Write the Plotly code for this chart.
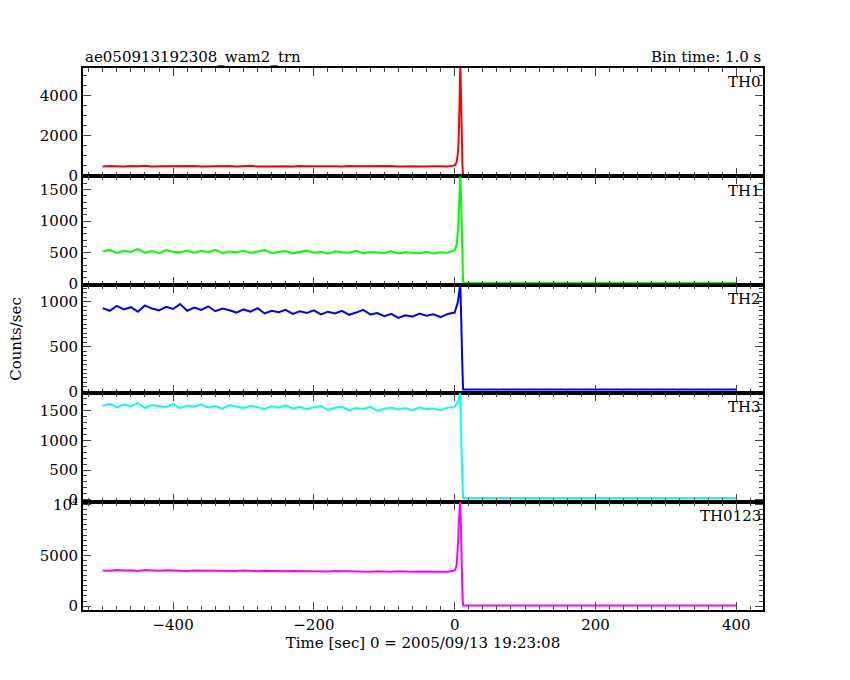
import plotly.graph_objects as go
from plotly.subplots import make_subplots
import numpy as np

# Pre-burst coarse bins (10 s) from -500 to -10 s
pre_time = list(np.arange(-500, 0, 10))
th0_pre = [470, 495, 480, 462, 488, 475, 500, 468, 483, 490, 472, 485, 478, 495, 466, 480,
           492, 474, 486, 470, 481, 498, 469, 477, 489, 473, 484, 466, 491, 476, 482, 470,
           488, 479, 465, 493, 474, 480, 487, 468, 476, 490, 471, 483, 477, 466, 489, 475, 482, 470]
th1_pre = [520, 545, 495, 530, 510, 555, 500, 525, 490, 540, 515, 505, 535, 498, 528, 512,
           545, 493, 520, 508, 530, 500, 518, 540, 495, 512, 526, 489, 505, 533, 500, 515,
           485, 522, 508, 498, 530, 490, 512, 504, 495, 520, 486, 508, 500, 492, 515, 485, 505, 498]
th2_pre = [930, 900, 955, 915, 940, 890, 960, 925, 905, 945, 920, 975, 900, 935, 910, 950,
           895, 925, 905, 880, 915, 890, 930, 870, 900, 885, 910, 865, 895, 875, 905, 860,
           890, 870, 900, 855, 880, 910, 860, 875, 840, 865, 820, 850, 835, 870, 845, 860, 830, 865]
th3_pre = [1580, 1610, 1555, 1600, 1570, 1625, 1545, 1590, 1575, 1560, 1605, 1540, 1585, 1565,
           1600, 1550, 1575, 1530, 1590, 1560, 1540, 1580, 1555, 1525, 1570, 1545, 1585, 1535,
           1560, 1520, 1555, 1575, 1510, 1545, 1565, 1500, 1540, 1525, 1560, 1495, 1530, 1550,
           1515, 1540, 1505, 1555, 1520, 1535, 1510, 1545]
th0123_pre = [3520, 3480, 3550, 3500, 3530, 3470, 3560, 3510, 3490, 3540, 3500, 3525, 3470, 3510,
              3490, 3530, 3460, 3505, 3480, 3450, 3500, 3470, 3440, 3490, 3455, 3480, 3430, 3470,
              3445, 3420, 3465, 3440, 3410, 3455, 3430, 3400, 3445, 3420, 3395, 3440, 3410, 3385,
              3430, 3400, 3380, 3420, 3395, 3370, 3410, 3390]

# Burst region (1 s bins) and post-burst level
burst_time = [0, 1, 2, 3, 4, 5, 6, 7, 8, 9, 10, 11, 12, 400]
th0_burst = [520, 560, 620, 700, 900, 1300, 2200, 3600, 5600, 4100, 1600, 500, 30, 30]
th1_burst = [540, 560, 600, 650, 750, 900, 1150, 1500, 1800, 1400, 700, 300, 20, 20]
th2_burst = [880, 900, 920, 950, 980, 1020, 1100, 1200, 1200, 900, 300, 250, 20, 20]
th3_burst = [1560, 1580, 1600, 1610, 1630, 1650, 1700, 1800, 1800, 1200, 350, 300, 30, 30]
th0123_burst = [3500, 3600, 3800, 4200, 5000, 6500, 8500, 10500, 10500, 7500, 3000, 1200, 60, 60]

series = [("TH0", th0_pre, th0_burst, "#ff0000", [-30, 5400], [0, 2000, 4000], None),
          ("TH1", th1_pre, th1_burst, "#00ff00", [-10, 1710], [0, 500, 1000, 1500], None),
          ("TH2", th2_pre, th2_burst, "#0000ff", [-20, 1190], [0, 500, 1000], None),
          ("TH3", th3_pre, th3_burst, "#00ffff", [-30, 1790], [0, 500, 1000, 1500], None),
          ("TH0123", th0123_pre, th0123_burst, "#ff00ff", [-380, 10290], [0, 5000, 10000],
           ["0", "5000", "10⁴"])]

font = dict(family="DejaVu Serif", size=15, color="black")

fig = make_subplots(rows=5, cols=1, shared_xaxes=True, vertical_spacing=0)

for i, (name, pre, burst, color, yr, tv, tt) in enumerate(series, start=1):
    fig.add_trace(go.Scatter(x=pre_time + burst_time, y=pre + burst, mode="lines",
                             line=dict(color=color, width=2), showlegend=False),
                  row=i, col=1)
    fig.update_yaxes(range=yr, tickvals=tv, ticktext=tt if tt else [str(v) for v in tv],
                     ticks="inside", ticklen=8, mirror="allticks", showline=True,
                     linecolor="black", linewidth=2, showgrid=False, zeroline=False,
                     minor=dict(ticks="inside", ticklen=4, nticks=5), automargin=False,
                     tickfont=font, row=i, col=1)
    yref = "y domain" if i == 1 else f"y{i} domain"
    fig.add_annotation(text=name, xref="x domain", yref=yref, x=1, y=0.97,
                       xanchor="right", yanchor="top", showarrow=False, font=font)

fig.update_xaxes(range=[-528, 438], tickvals=[-400, -200, 0, 200, 400], ticks="inside",
                 ticklen=8, mirror="allticks", showline=True, linecolor="black", linewidth=2,
                 showgrid=False, zeroline=False, minor=dict(ticks="inside", ticklen=4, dtick=20),
                 tickfont=font, automargin=False)
fig.update_xaxes(title=dict(text="Time [sec] 0 = 2005/09/13 19:23:08", font=font, standoff=4),
                 row=5, col=1)

fig.add_annotation(text="Counts/sec", xref="paper", yref="paper", x=-0.115, y=0.5,
                   textangle=-90, showarrow=False, font=font)
fig.add_annotation(text="ae050913192308_wam2_trn", xref="paper", yref="paper", x=0, y=1,
                   xanchor="left", yanchor="bottom", showarrow=False, font=font)
fig.add_annotation(text="Bin time: 1.0 s", xref="paper", yref="paper", x=1, y=1,
                   xanchor="right", yanchor="bottom", showarrow=False, font=font)

fig.update_layout(width=850, height=680, plot_bgcolor="white", paper_bgcolor="white",
                  margin=dict(l=75, r=95, t=60, b=78), font=font)

fig.write_html("out.html")
